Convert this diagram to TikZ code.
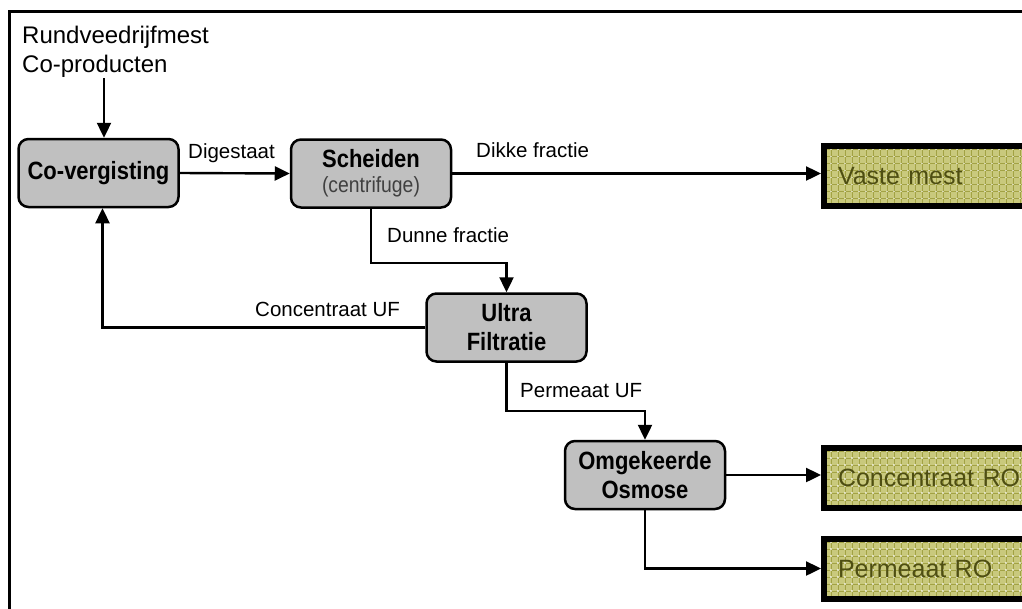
\documentclass[tikz,border=0pt]{standalone}
\usepackage{fontspec}
\setmainfont{Liberation Sans}
\newfontfamily\condfont[FakeStretch=0.88]{Liberation Sans}
\usetikzlibrary{arrows.meta}
\definecolor{boxgray}{HTML}{C0C0C0}
\definecolor{mestfill}{HTML}{C9C97D}
\definecolor{mestgrid}{HTML}{A2A244}
\definecolor{mesttext}{HTML}{4E4E12}

\begin{document}
\begin{tikzpicture}[x=1pt,y=-1pt]
\tikzstyle{every node}+=[inner sep=0pt]
\tikzstyle{stap}=[draw=black, fill=boxgray, line width=2.5pt, rounded corners=10pt, minimum width=160pt, minimum height=68pt, align=center, font=\condfont\bfseries\fontsize{25}{29}\selectfont]
\tikzstyle{mest}=[draw=black, fill=mestfill, line width=6pt, anchor=west, minimum height=60pt, text width=212pt, inner xsep=14pt, align=left, text=mesttext, font=\fontsize{25}{30}\selectfont,
  path picture={
    \draw[mestgrid, line width=0.7pt, step=7pt] (path picture bounding box.south west) grid (path picture bounding box.north east);
    \draw[white, opacity=0.6, line width=1.1pt, dash pattern=on 1.1pt off 5.9pt, step=7pt, shift={(3.5pt,3.5pt)}] (path picture bounding box.south west) grid (path picture bounding box.north east);
  }]
\tikzstyle{pijl}=[line width=2.4pt, -{Triangle[length=15pt,width=14pt]}]
\tikzstyle{lbl}=[anchor=base west, font=\fontsize{20.5}{24}\selectfont]

\useasboundingbox (0,0) rectangle (1022,608);
\clip (0,0) rectangle (1022,608);
\draw[line width=3pt] (9.5,11.5) rectangle (1100,700);

\node (invoer) [anchor=north west, align=left, font=\fontsize{24}{29}\selectfont] at (22,25.5) {Rundveedrijfmest\\Co-producten};

\node (cov) [stap] at (98.5,173) {Co-vergisting};
\node (sch) [stap] at (371,173.5) {Scheiden\\[-4pt]{\mdseries\color{black!75}\fontsize{22}{24}\selectfont(centrifuge)}};
\node (uf) [stap] at (506.5,327.5) {Ultra\\Filtratie};
\node (ro) [stap] at (645,475) {Omgekeerde\\Osmose};

\node (vaste) [mest] at (821,176) {Vaste mest};
\node (concro) [mest] at (821,477.5) {Concentraat RO};
\node (permro) [mest] at (821,568.5) {Permeaat RO};

\coordinate (toevoer) at (104,78);
\draw[pijl] (toevoer) -- (toevoer |- cov.north);
\draw[pijl] (cov.east) -- (sch.west);
\draw (188,158) node (digest) [lbl] {Digestaat};
\draw[pijl] (sch.east) -- (sch.east -| vaste.west);
\draw (476,157) node (dikke) [lbl] {Dikke fractie};
\draw[pijl] (sch.south) -- ++(0,54) -| (uf.north);
\draw (387,242) node (dunne) [lbl] {Dunne fractie};
\draw[pijl] (uf.west) -| ([xshift=4pt]cov.south);
\draw (255,316) node (concuf) [lbl] {Concentraat UF};
\draw[pijl] (uf.south) -- ++(0,48) -| (ro.north);
\draw (520,397) node (permuf) [lbl] {Permeaat UF};
\draw[pijl] (ro.east) -- (ro.east -| concro.west);
\draw[pijl] (ro.south) |- (permro.west);
\end{tikzpicture}
\end{document}
